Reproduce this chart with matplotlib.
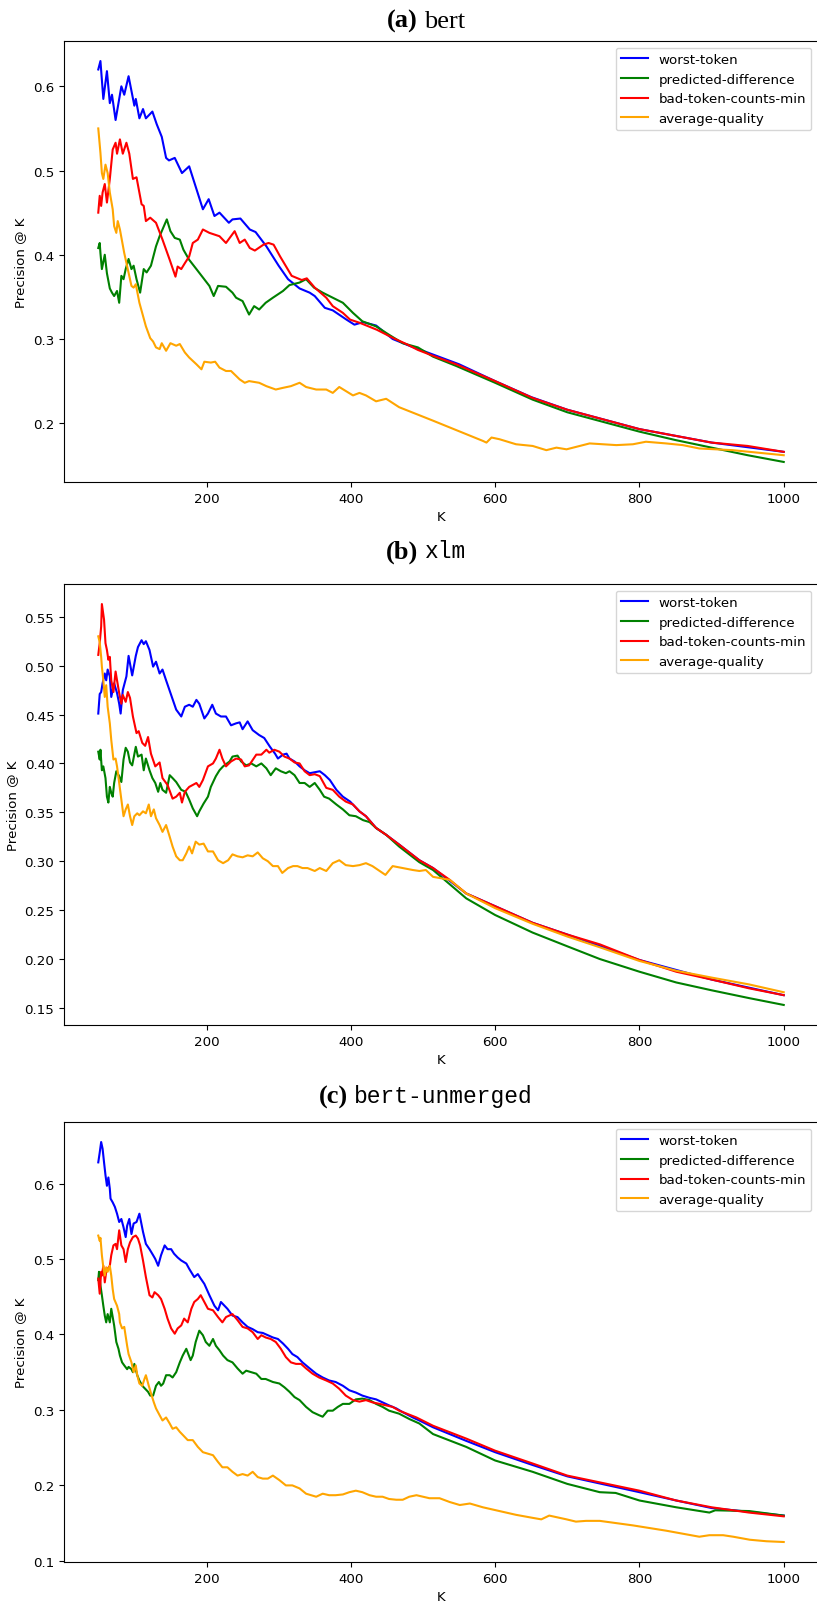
import matplotlib
matplotlib.use("Agg")
import matplotlib.pyplot as plt
from matplotlib.ticker import MultipleLocator

# ---------------- data (K, precision@K) ----------------
series_names = ["worst-token", "predicted-difference", "bad-token-counts-min", "average-quality"]
series_colors = ["blue", "green", "red", "orange"]

bert_worst = [(50,0.620),(53,0.630),(57,0.585),(62,0.618),(66,0.580),(69,0.590),(74,0.560),(82,0.600),(86,0.590),(92,0.612),(100,0.577),(102,0.585),(107,0.562),(112,0.573),(116,0.562),(125,0.570),(131,0.555),(138,0.540),(144,0.515),(148,0.512),(156,0.515),(166,0.497),(176,0.505),(195,0.454),(203,0.466),(211,0.446),(218,0.450),(231,0.438),(236,0.442),(247,0.443),(260,0.430),(268,0.427),(283,0.410),(300,0.387),(313,0.371),(329,0.360),(343,0.355),(350,0.351),(364,0.337),(375,0.334),(394,0.323),(405,0.317),(417,0.320),(435,0.316),(458,0.300),(481,0.292),(500,0.286),(550,0.270),(600,0.250),(650,0.231),(700,0.216),(800,0.193),(900,0.177),(1000,0.166)]
bert_pred = [(50,0.408),(52,0.414),(53,0.402),(55,0.383),(59,0.400),(62,0.378),(66,0.360),(69,0.355),(72,0.351),(76,0.357),(79,0.343),(82,0.375),(85,0.371),(88,0.383),(92,0.395),(96,0.383),(99,0.387),(103,0.371),(108,0.355),(113,0.383),(117,0.379),(123,0.387),(130,0.410),(135,0.422),(142,0.436),(145,0.442),(150,0.428),(156,0.420),(163,0.418),(168,0.406),(176,0.394),(186,0.383),(195,0.373),(204,0.363),(210,0.351),(216,0.363),(227,0.362),(236,0.355),(241,0.349),(250,0.345),(259,0.329),(266,0.339),(273,0.335),(282,0.343),(292,0.349),(306,0.357),(315,0.364),(329,0.367),(338,0.371),(349,0.361),(361,0.355),(375,0.349),(389,0.343),(403,0.331),(416,0.321),(435,0.315),(453,0.305),(472,0.295),(493,0.290),(514,0.279),(546,0.268),(600,0.248),(652,0.228),(700,0.213),(800,0.190),(850,0.180),(900,0.171),(950,0.162),(1000,0.154)]
bert_bad = [(50,0.450),(52,0.470),(54,0.458),(56,0.474),(59,0.484),(62,0.462),(66,0.490),(70,0.525),(74,0.533),(76,0.520),(80,0.537),(84,0.520),(89,0.533),(93,0.520),(98,0.490),(103,0.492),(110,0.460),(113,0.458),(116,0.440),(122,0.444),(130,0.438),(139,0.418),(149,0.394),(157,0.374),(160,0.386),(165,0.383),(170,0.390),(176,0.398),(181,0.414),(188,0.418),(195,0.430),(204,0.426),(218,0.422),(227,0.414),(239,0.428),(246,0.414),(253,0.418),(260,0.408),(267,0.405),(279,0.412),(286,0.414),(293,0.412),(302,0.398),(318,0.375),(332,0.370),(339,0.372),(350,0.361),(366,0.349),(375,0.339),(389,0.331),(399,0.323),(413,0.319),(436,0.311),(459,0.301),(477,0.294),(493,0.287),(514,0.280),(546,0.270),(600,0.250),(652,0.230),(700,0.216),(800,0.193),(850,0.185),(900,0.177),(950,0.173),(1000,0.166)]
bert_avg = [(50,0.550),(53,0.521),(55,0.497),(57,0.490),(60,0.507),(63,0.497),(66,0.474),(70,0.454),(72,0.434),(75,0.426),(77,0.440),(80,0.430),(86,0.402),(96,0.363),(99,0.361),(102,0.365),(107,0.343),(116,0.315),(122,0.301),(126,0.297),(130,0.290),(135,0.288),(138,0.295),(144,0.286),(150,0.295),(158,0.292),(163,0.294),(170,0.284),(176,0.278),(186,0.270),(193,0.264),(197,0.273),(206,0.272),(212,0.273),(218,0.266),(227,0.262),(234,0.262),(246,0.252),(253,0.248),(259,0.250),(273,0.248),(283,0.244),(296,0.240),(306,0.242),(317,0.244),(329,0.248),(338,0.243),(352,0.240),(366,0.240),(375,0.236),(384,0.243),(403,0.233),(412,0.236),(421,0.233),(435,0.226),(449,0.229),(467,0.219),(514,0.203),(560,0.187),(583,0.179),(588,0.177),(595,0.183),(606,0.181),(629,0.175),(652,0.173),(671,0.168),(685,0.171),(699,0.169),(731,0.176),(768,0.174),(791,0.175),(809,0.178),(837,0.176),(860,0.174),(883,0.170),(929,0.168),(1000,0.162)]

xlm_worst = [(50,0.451),(52,0.471),(54,0.473),(56,0.482),(59,0.492),(61,0.485),(63,0.496),(66,0.489),(68,0.468),(72,0.482),(76,0.472),(79,0.461),(81,0.451),(84,0.475),(89,0.489),(92,0.510),(97,0.490),(102,0.510),(105,0.519),(110,0.526),(113,0.522),(116,0.525),(121,0.516),(126,0.499),(130,0.504),(135,0.492),(139,0.496),(144,0.485),(151,0.470),(158,0.455),(165,0.448),(170,0.458),(176,0.460),(181,0.458),(186,0.465),(190,0.461),(197,0.446),(202,0.451),(208,0.460),(213,0.451),(220,0.448),(227,0.448),(234,0.439),(241,0.441),(246,0.442),(250,0.435),(257,0.443),(264,0.434),(273,0.429),(280,0.426),(288,0.417),(295,0.410),(299,0.405),(306,0.409),(311,0.410),(315,0.405),(322,0.402),(329,0.397),(336,0.393),(343,0.390),(350,0.391),(357,0.392),(364,0.388),(371,0.383),(380,0.373),(389,0.366),(399,0.361),(412,0.351),(421,0.346),(435,0.334),(449,0.327),(467,0.317),(495,0.301),(514,0.293),(560,0.267),(600,0.254),(652,0.237),(700,0.225),(800,0.199),(900,0.179),(1000,0.163)]
xlm_pred = [(50,0.412),(52,0.404),(53,0.414),(55,0.393),(57,0.397),(60,0.385),(62,0.366),(64,0.360),(66,0.376),(68,0.370),(70,0.366),(72,0.380),(75,0.392),(79,0.387),(82,0.381),(85,0.404),(88,0.416),(91,0.412),(94,0.401),(97,0.398),(102,0.417),(105,0.407),(110,0.409),(113,0.393),(116,0.405),(121,0.393),(125,0.385),(129,0.380),(133,0.371),(136,0.380),(139,0.373),(144,0.370),(149,0.388),(153,0.385),(158,0.381),(165,0.373),(171,0.371),(176,0.363),(181,0.354),(187,0.346),(190,0.351),(196,0.359),(202,0.366),(206,0.376),(213,0.387),(218,0.393),(223,0.397),(232,0.402),(236,0.407),(243,0.408),(248,0.402),(255,0.398),(262,0.400),(269,0.397),(276,0.400),(283,0.395),(289,0.388),(296,0.395),(303,0.392),(310,0.390),(315,0.392),(322,0.388),(329,0.380),(336,0.380),(343,0.376),(350,0.380),(357,0.373),(363,0.366),(370,0.364),(380,0.358),(389,0.353),(398,0.347),(407,0.346),(417,0.342),(426,0.340),(435,0.334),(449,0.327),(467,0.315),(495,0.299),(514,0.291),(560,0.262),(600,0.245),(652,0.227),(700,0.213),(745,0.200),(800,0.187),(851,0.176),(900,0.168),(952,0.160),(1000,0.153)]
xlm_bad = [(50,0.511),(52,0.523),(54,0.540),(55,0.563),(58,0.547),(60,0.523),(62,0.516),(64,0.506),(66,0.509),(68,0.485),(71,0.473),(74,0.494),(76,0.485),(79,0.472),(82,0.461),(84,0.470),(88,0.463),(91,0.473),(94,0.467),(98,0.448),(103,0.431),(106,0.433),(111,0.421),(115,0.418),(119,0.427),(123,0.410),(129,0.397),(135,0.401),(139,0.385),(146,0.378),(153,0.364),(158,0.366),(163,0.370),(166,0.360),(170,0.371),(176,0.376),(181,0.378),(186,0.380),(190,0.376),(195,0.383),(202,0.397),(209,0.400),(213,0.405),(218,0.414),(222,0.405),(227,0.397),(234,0.402),(241,0.405),(248,0.404),(253,0.397),(259,0.398),(269,0.409),(276,0.409),(283,0.414),(287,0.411),(294,0.414),(301,0.412),(308,0.407),(315,0.405),(322,0.401),(329,0.400),(336,0.392),(343,0.388),(350,0.389),(357,0.387),(366,0.375),(375,0.373),(384,0.366),(393,0.361),(403,0.358),(412,0.351),(421,0.346),(435,0.334),(449,0.327),(467,0.317),(495,0.301),(514,0.293),(537,0.281),(560,0.267),(600,0.254),(652,0.237),(700,0.225),(745,0.215),(800,0.199),(851,0.187),(900,0.179),(952,0.170),(1000,0.163)]
xlm_avg = [(50,0.530),(52,0.524),(54,0.509),(55,0.499),(57,0.485),(59,0.468),(61,0.480),(63,0.458),(66,0.441),(68,0.424),(71,0.404),(74,0.405),(76,0.397),(79,0.380),(82,0.363),(85,0.346),(88,0.353),(91,0.358),(94,0.346),(97,0.337),(100,0.346),(104,0.349),(107,0.347),(112,0.351),(116,0.349),(120,0.358),(123,0.346),(127,0.353),(130,0.344),(135,0.337),(139,0.330),(144,0.337),(149,0.325),(153,0.315),(158,0.305),(163,0.301),(167,0.301),(172,0.308),(176,0.315),(180,0.308),(185,0.320),(190,0.317),(196,0.318),(202,0.310),(209,0.310),(216,0.301),(223,0.298),(230,0.301),(236,0.307),(243,0.305),(250,0.304),(257,0.306),(264,0.305),(271,0.309),(278,0.303),(285,0.300),(292,0.295),(299,0.295),(305,0.288),(313,0.293),(320,0.295),(326,0.295),(333,0.293),(340,0.293),(350,0.290),(357,0.293),(366,0.290),(375,0.298),(384,0.301),(393,0.296),(403,0.295),(412,0.296),(421,0.298),(430,0.295),(440,0.290),(448,0.286),(458,0.295),(472,0.293),(486,0.291),(495,0.290),(504,0.291),(514,0.284),(537,0.281),(560,0.267),(600,0.252),(652,0.236),(700,0.223),(745,0.212),(800,0.198),(851,0.188),(900,0.181),(952,0.174),(1000,0.166)]

unm_worst = [(50,0.628),(52,0.641),(54,0.655),(56,0.646),(58,0.628),(60,0.611),(62,0.597),(64,0.608),(66,0.593),(67,0.580),(70,0.575),(73,0.569),(76,0.560),(79,0.549),(82,0.553),(85,0.542),(88,0.529),(90,0.544),(93,0.553),(96,0.533),(99,0.547),(103,0.549),(107,0.560),(112,0.536),(116,0.520),(121,0.513),(126,0.505),(129,0.500),(133,0.491),(137,0.505),(142,0.518),(146,0.513),(151,0.513),(155,0.507),(160,0.502),(165,0.498),(172,0.494),(176,0.487),(183,0.476),(188,0.480),(192,0.474),(197,0.467),(204,0.452),(211,0.438),(216,0.432),(220,0.443),(225,0.438),(229,0.434),(236,0.425),(243,0.423),(250,0.416),(257,0.410),(264,0.407),(271,0.403),(278,0.402),(285,0.399),(292,0.396),(299,0.394),(306,0.388),(313,0.381),(319,0.374),(326,0.370),(333,0.363),(343,0.355),(352,0.348),(361,0.343),(370,0.339),(379,0.337),(389,0.332),(398,0.326),(407,0.323),(416,0.319),(426,0.316),(435,0.314),(444,0.310),(453,0.306),(463,0.302),(472,0.297),(486,0.290),(495,0.286),(514,0.277),(560,0.259),(600,0.244),(652,0.227),(700,0.212),(800,0.191),(851,0.180),(900,0.170),(952,0.165),(1000,0.160)]
unm_pred = [(50,0.472),(51,0.483),(53,0.465),(55,0.452),(57,0.438),(59,0.425),(61,0.416),(63,0.427),(66,0.416),(68,0.434),(70,0.423),(72,0.412),(75,0.390),(78,0.381),(80,0.372),(83,0.363),(86,0.359),(90,0.354),(92,0.357),(96,0.354),(98,0.350),(100,0.361),(104,0.346),(107,0.339),(111,0.332),(115,0.328),(119,0.324),(122,0.319),(126,0.319),(130,0.332),(134,0.337),(137,0.332),(140,0.335),(144,0.346),(149,0.346),(153,0.343),(158,0.350),(163,0.363),(167,0.372),(172,0.381),(178,0.366),(181,0.372),(185,0.390),(190,0.405),(195,0.399),(199,0.390),(204,0.385),(209,0.394),(213,0.385),(218,0.379),(223,0.372),(229,0.366),(236,0.363),(243,0.355),(250,0.348),(255,0.352),(262,0.350),(269,0.348),(276,0.341),(282,0.341),(292,0.337),(301,0.335),(308,0.330),(315,0.324),(322,0.317),(329,0.313),(338,0.304),(347,0.297),(356,0.293),(361,0.291),(368,0.299),(375,0.299),(382,0.304),(389,0.308),(398,0.308),(407,0.314),(416,0.315),(426,0.313),(435,0.308),(444,0.304),(453,0.299),(467,0.295),(481,0.288),(495,0.282),(514,0.268),(560,0.251),(600,0.233),(652,0.218),(700,0.202),(745,0.191),(767,0.190),(800,0.180),(851,0.171),(897,0.164),(905,0.167),(952,0.166),(1000,0.160)]
unm_bad = [(50,0.474),(52,0.454),(54,0.483),(55,0.478),(57,0.491),(59,0.469),(61,0.483),(63,0.487),(66,0.491),(68,0.505),(71,0.518),(74,0.520),(76,0.513),(79,0.538),(82,0.518),(85,0.513),(88,0.496),(91,0.513),(94,0.522),(98,0.529),(102,0.531),(105,0.527),(108,0.518),(112,0.498),(116,0.476),(121,0.452),(125,0.449),(128,0.456),(133,0.452),(137,0.447),(142,0.434),(146,0.421),(151,0.408),(156,0.401),(160,0.408),(165,0.412),(169,0.421),(174,0.416),(179,0.434),(183,0.443),(188,0.447),(192,0.452),(197,0.443),(202,0.434),(209,0.432),(216,0.423),(222,0.416),(227,0.423),(236,0.427),(243,0.419),(250,0.410),(257,0.408),(264,0.403),(271,0.394),(276,0.399),(282,0.396),(289,0.394),(296,0.390),(303,0.381),(310,0.370),(317,0.363),(324,0.361),(331,0.361),(338,0.355),(347,0.348),(356,0.343),(366,0.339),(375,0.335),(384,0.328),(393,0.319),(403,0.313),(412,0.311),(421,0.313),(430,0.310),(440,0.308),(449,0.306),(458,0.304),(467,0.299),(491,0.290),(514,0.279),(560,0.262),(600,0.246),(652,0.229),(700,0.213),(800,0.193),(851,0.180),(900,0.171),(952,0.164),(1000,0.159)]
unm_avg = [(50,0.531),(52,0.524),(53,0.528),(55,0.505),(57,0.489),(59,0.478),(61,0.489),(63,0.483),(66,0.491),(68,0.478),(70,0.460),(72,0.447),(76,0.438),(79,0.427),(80,0.416),(83,0.408),(86,0.410),(90,0.385),(92,0.374),(96,0.363),(99,0.350),(102,0.359),(104,0.346),(107,0.335),(111,0.332),(114,0.341),(116,0.346),(120,0.332),(124,0.319),(127,0.310),(130,0.302),(135,0.293),(139,0.286),(144,0.290),(149,0.282),(153,0.275),(158,0.277),(163,0.271),(170,0.264),(174,0.260),(181,0.260),(188,0.251),(195,0.244),(202,0.242),(209,0.240),(216,0.231),(222,0.224),(229,0.224),(236,0.218),(243,0.213),(250,0.215),(257,0.213),(264,0.218),(271,0.211),(278,0.209),(285,0.209),(292,0.213),(301,0.207),(310,0.200),(319,0.200),(329,0.196),(338,0.189),(352,0.185),(361,0.189),(370,0.187),(379,0.187),(389,0.188),(398,0.191),(407,0.193),(416,0.191),(426,0.187),(435,0.185),(444,0.185),(453,0.182),(463,0.181),(472,0.181),(481,0.185),(491,0.187),(509,0.183),(523,0.183),(537,0.178),(551,0.174),(565,0.176),(583,0.171),(606,0.166),(629,0.161),(652,0.157),(664,0.155),(675,0.160),(699,0.155),(712,0.152),(726,0.153),(745,0.153),(768,0.150),(791,0.147),(837,0.140),(883,0.132),(897,0.134),(916,0.134),(930,0.132),(953,0.128),(976,0.126),(1000,0.125)]

panel_labels = ["(a)", "(b)", "(c)"]
panel_names = ["bert", "xlm", "bert-unmerged"]
panel_mono = [False, True, True]
panel_ystep = [0.1, 0.05, 0.1]
panel_series = [
    [bert_worst, bert_pred, bert_bad, bert_avg],
    [xlm_worst, xlm_pred, xlm_bad, xlm_avg],
    [unm_worst, unm_pred, unm_bad, unm_avg],
]

# ---------------- layout (pixels) ----------------
W, H = 817, 1606
fig = plt.figure(figsize=(W / 100, H / 100), dpi=100)
axes_tops = [42, 585, 1123]
axes_bottoms = [483, 1026, 1563]
title_baselines = [27.5, 558.5, 1103.5]
left_px, right_px = 64, 818
title_center = 426
fs = 9.6

renderer = fig.canvas.get_renderer()

for i in range(3):
    top, bot = axes_tops[i], axes_bottoms[i]
    ax = fig.add_axes([left_px / W, 1 - bot / H, (right_px - left_px) / W, (bot - top) / H])
    for pts, name, col in zip(panel_series[i], series_names, series_colors):
        xs = [p[0] for p in pts]
        ys = [p[1] for p in pts]
        ax.plot(xs, ys, color=col, label=name, lw=1.5)
    ax.yaxis.set_major_locator(MultipleLocator(panel_ystep[i]))
    ax.set_xlabel("K", fontsize=fs)
    ax.set_ylabel("Precision @ K", fontsize=fs)
    ax.tick_params(labelsize=fs)
    ax.legend(loc="upper right", fontsize=fs)

    # composite title: bold serif label + name (serif or monospace)
    yb = 1 - title_baselines[i] / H
    t1 = fig.text(0, yb, panel_labels[i], fontfamily="Liberation Serif",
                  fontweight="bold", fontsize=19, va="baseline", ha="left")
    if panel_mono[i]:
        t2 = fig.text(0, yb, panel_names[i], fontfamily="Liberation Mono",
                      fontsize=16.5, va="baseline", ha="left")
    else:
        t2 = fig.text(0, yb, panel_names[i], fontfamily="Liberation Serif",
                      fontsize=19, va="baseline", ha="left")
    w1 = t1.get_window_extent(renderer).width
    w2 = t2.get_window_extent(renderer).width
    gap = 6
    start = title_center - (w1 + gap + w2) / 2
    t1.set_x(start / W)
    t2.set_x((start + w1 + gap) / W)

fig.savefig("out.png", dpi=100)
